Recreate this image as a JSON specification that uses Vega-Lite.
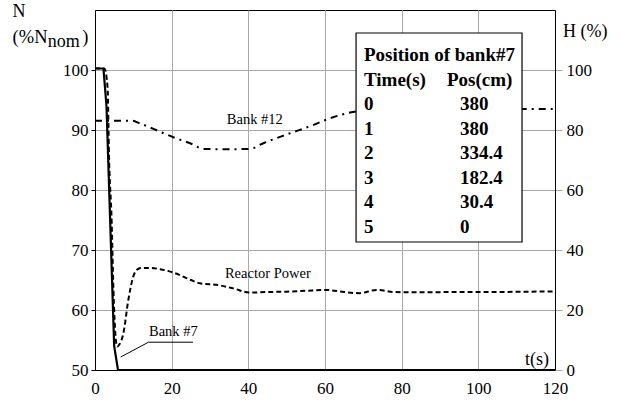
{
  "$schema": "https://vega.github.io/schema/vega-lite/v6.json",
  "width": 460,
  "height": 360,
  "autosize": "none",
  "padding": {"left": 95, "top": 10, "right": 65, "bottom": 31},
  "background": "white",
  "config": {
    "view": {"stroke": "#000", "strokeWidth": 1},
    "axis": {
      "labelFontSize": 17,
      "labelColor": "#000",
      "domainColor": "#000",
      "domainWidth": 1,
      "gridColor": "#a8a8a8",
      "gridOpacity": 1,
      "gridWidth": 1
    }
  },
  "datasets": {
    "power": [
      {"t": 0, "n": 100.3}, {"t": 2.5, "n": 100.2}, {"t": 3.3, "n": 96.9},
      {"t": 3.65, "n": 85.8}, {"t": 4.35, "n": 74.7}, {"t": 4.8, "n": 63.6},
      {"t": 5.4, "n": 55.3}, {"t": 5.8, "n": 53.9}, {"t": 6.3, "n": 54.2},
      {"t": 7.4, "n": 56.1}, {"t": 8.7, "n": 61.7}, {"t": 10, "n": 65.6},
      {"t": 10.9, "n": 66.7}, {"t": 12, "n": 67}, {"t": 14.3, "n": 67},
      {"t": 17, "n": 66.8}, {"t": 19.6, "n": 66.4}, {"t": 22.2, "n": 65.8},
      {"t": 25, "n": 65}, {"t": 27.4, "n": 64.45}, {"t": 31.7, "n": 64.2},
      {"t": 36.1, "n": 63.6}, {"t": 40.4, "n": 62.9}, {"t": 45, "n": 63},
      {"t": 50, "n": 63.05}, {"t": 55, "n": 63.2}, {"t": 60, "n": 63.35},
      {"t": 65, "n": 63}, {"t": 69, "n": 62.8}, {"t": 73.5, "n": 63.35},
      {"t": 78, "n": 63}, {"t": 85, "n": 62.95}, {"t": 95, "n": 63},
      {"t": 105, "n": 63}, {"t": 112, "n": 63.05}, {"t": 120, "n": 63.1}
    ],
    "bank7": [
      {"t": 0, "h": 100.5}, {"t": 2.2, "h": 100.5}, {"t": 3, "h": 88},
      {"t": 4, "h": 48}, {"t": 5, "h": 8}, {"t": 6, "h": 0}, {"t": 120, "h": 0}
    ],
    "bank12": [
      {"t": 0, "h": 83.1}, {"t": 9.6, "h": 83.1}, {"t": 11.7, "h": 82.2},
      {"t": 17, "h": 79.4}, {"t": 20.4, "h": 77.6}, {"t": 24.8, "h": 75.6},
      {"t": 28.3, "h": 73.7}, {"t": 34, "h": 73.6}, {"t": 40.4, "h": 73.7},
      {"t": 43.9, "h": 75.6}, {"t": 50, "h": 78.5}, {"t": 57, "h": 81.7},
      {"t": 61.3, "h": 83.9}, {"t": 66.5, "h": 85.8}, {"t": 72, "h": 86.8},
      {"t": 80, "h": 87}, {"t": 120, "h": 87}
    ],
    "bank7_position": [
      {"time": 0, "pos": "380"}, {"time": 1, "pos": "380"},
      {"time": 2, "pos": "334.4"}, {"time": 3, "pos": "182.4"},
      {"time": 4, "pos": "30.4"}, {"time": 5, "pos": "0"}
    ]
  },
  "layer": [
    {
      "data": {"name": "power"},
      "mark": {"type": "line", "color": "#000", "strokeWidth": 2, "strokeDash": [5, 3], "interpolate": "monotone"},
      "encoding": {
        "x": {
          "field": "t", "type": "quantitative",
          "scale": {"domain": [0, 120], "nice": false, "zero": false},
          "axis": {
            "title": null, "values": [0, 10, 20, 30, 40, 50, 60, 70, 80, 90, 100, 110, 120],
            "grid": true, "ticks": false, "labelPadding": 10,
            "labelFlush": false, "labelOverlap": false,
            "labelFont": "Liberation Serif", "labelFontSize": 17, "labelColor": "#000"
          }
        },
        "y": {
          "field": "n", "type": "quantitative",
          "scale": {"domain": [50, 110], "nice": false, "zero": false},
          "axis": {
            "orient": "left", "title": null, "values": [50, 60, 70, 80, 90, 100],
            "grid": true, "tickSize": 4, "tickColor": "#000", "labelPadding": 3,
            "labelFont": "Liberation Serif", "labelFontSize": 17, "labelColor": "#000"
          }
        }
      }
    },
    {
      "layer": [
        {
          "data": {"name": "bank7"},
          "mark": {"type": "line", "color": "#000", "strokeWidth": 2.2},
          "encoding": {
            "x": {"field": "t", "type": "quantitative"},
            "y": {
              "field": "h", "type": "quantitative",
              "scale": {"domain": [0, 120], "nice": false, "zero": false},
              "axis": {
                "orient": "right", "title": null, "values": [0, 20, 40, 60, 80, 100],
                "grid": false, "tickSize": 7, "tickColor": "#a8a8a8", "labelPadding": 4,
                "labelFont": "Liberation Serif", "labelFontSize": 17, "labelColor": "#000"
              }
            }
          }
        },
        {
          "data": {"name": "bank12"},
          "mark": {"type": "line", "color": "#000", "strokeWidth": 2, "strokeDash": [7, 5, 2, 5], "interpolate": "monotone"},
          "encoding": {
            "x": {"field": "t", "type": "quantitative"},
            "y": {"field": "h", "type": "quantitative"}
          }
        },
        {
          "data": {"values": [{}]},
          "mark": {"type": "rect", "fill": "#fff", "stroke": "#000", "strokeWidth": 1.2},
          "encoding": {
            "x": {"datum": 68.1}, "x2": {"datum": 111.4},
            "y": {"datum": 112.33}, "y2": {"datum": 42.67}
          }
        },
        {
          "data": {"values": [{}]},
          "mark": {"type": "rule", "color": "#000", "strokeWidth": 1},
          "encoding": {
            "x": {"datum": 13.96}, "x2": {"datum": 25.57},
            "y": {"datum": 9.27}, "y2": {"datum": 9.27}
          }
        },
        {
          "data": {"values": [{}]},
          "mark": {"type": "rule", "color": "#000", "strokeWidth": 1},
          "encoding": {
            "x": {"datum": 13.96}, "x2": {"datum": 6.7},
            "y": {"datum": 9.27}, "y2": {"datum": 4.33}
          }
        },
        {
          "data": {"values": [{"label": "Bank #12"}]},
          "mark": {"type": "text", "font": "Liberation Serif", "color": "#000", "fontSize": 14.5, "align": "left", "baseline": "alphabetic"},
          "encoding": {"x": {"datum": 34.4}, "y": {"datum": 82}, "text": {"field": "label"}}
        },
        {
          "data": {"values": [{"label": "Reactor Power"}]},
          "mark": {"type": "text", "font": "Liberation Serif", "color": "#000", "fontSize": 14.5, "align": "left", "baseline": "alphabetic"},
          "encoding": {"x": {"datum": 33.9}, "y": {"datum": 30.8}, "text": {"field": "label"}}
        },
        {
          "data": {"values": [{"label": "Bank #7"}]},
          "mark": {"type": "text", "font": "Liberation Serif", "color": "#000", "fontSize": 14.5, "align": "left", "baseline": "alphabetic"},
          "encoding": {"x": {"datum": 14.09}, "y": {"datum": 11.33}, "text": {"field": "label"}}
        },
        {
          "data": {"values": [{"label": "t(s)"}]},
          "mark": {"type": "text", "font": "Liberation Serif", "color": "#000", "fontSize": 18, "align": "left", "baseline": "alphabetic"},
          "encoding": {"x": {"datum": 112.2}, "y": {"datum": 1.67}, "text": {"field": "label"}}
        },
        {
          "data": {"values": [{"label": "H (%)"}]},
          "mark": {"type": "text", "font": "Liberation Serif", "color": "#000", "fontSize": 18, "align": "left", "baseline": "alphabetic"},
          "encoding": {"x": {"datum": 122.1}, "y": {"datum": 111.1}, "text": {"field": "label"}}
        },
        {
          "data": {"values": [{"label": "N"}]},
          "mark": {"type": "text", "font": "Liberation Serif", "color": "#000", "fontSize": 18, "align": "left", "baseline": "alphabetic"},
          "encoding": {"x": {"datum": -21.5}, "y": {"datum": 117.8}, "text": {"field": "label"}}
        },
        {
          "data": {"values": [{"label": "(%N"}]},
          "mark": {"type": "text", "font": "Liberation Serif", "color": "#000", "fontSize": 18.5, "align": "left", "baseline": "alphabetic"},
          "encoding": {"x": {"datum": -21.5}, "y": {"datum": 109.1}, "text": {"field": "label"}}
        },
        {
          "data": {"values": [{"label": "nom"}]},
          "mark": {"type": "text", "font": "Liberation Serif", "color": "#000", "fontSize": 18, "align": "left", "baseline": "alphabetic"},
          "encoding": {"x": {"datum": -12.3}, "y": {"datum": 107.6}, "text": {"field": "label"}}
        },
        {
          "data": {"values": [{"label": ")"}]},
          "mark": {"type": "text", "font": "Liberation Serif", "color": "#000", "fontSize": 18.5, "align": "left", "baseline": "alphabetic"},
          "encoding": {"x": {"datum": -3.3}, "y": {"datum": 109.1}, "text": {"field": "label"}}
        }
      ]
    },
    {
      "layer": [
        {
          "data": {"values": [{"label": "Position of bank#7"}]},
          "mark": {"type": "text", "font": "Liberation Serif", "color": "#000", "fontSize": 19, "fontWeight": "bold", "align": "left", "baseline": "alphabetic"},
          "encoding": {
            "x": {"datum": 70.17},
            "y": {"datum": -2, "type": "quantitative", "scale": {"domain": [-4.082, 10.612], "reverse": true, "nice": false, "zero": false}, "axis": null},
            "text": {"field": "label"}
          }
        },
        {
          "data": {"values": [{"label": "Time(s)"}]},
          "mark": {"type": "text", "font": "Liberation Serif", "color": "#000", "fontSize": 19, "fontWeight": "bold", "align": "left", "baseline": "alphabetic"},
          "encoding": {"x": {"datum": 70.17}, "y": {"datum": -1}, "text": {"field": "label"}}
        },
        {
          "data": {"values": [{"label": "Pos(cm)"}]},
          "mark": {"type": "text", "font": "Liberation Serif", "color": "#000", "fontSize": 19, "fontWeight": "bold", "align": "left", "baseline": "alphabetic"},
          "encoding": {"x": {"datum": 91.83}, "y": {"datum": -1}, "text": {"field": "label"}}
        },
        {
          "data": {"name": "bank7_position"},
          "mark": {"type": "text", "font": "Liberation Serif", "color": "#000", "fontSize": 19, "fontWeight": "bold", "align": "left", "baseline": "alphabetic"},
          "encoding": {"x": {"datum": 70.17}, "y": {"field": "time", "type": "quantitative"}, "text": {"field": "time", "type": "nominal"}}
        },
        {
          "data": {"name": "bank7_position"},
          "mark": {"type": "text", "font": "Liberation Serif", "color": "#000", "fontSize": 19, "fontWeight": "bold", "align": "left", "baseline": "alphabetic"},
          "encoding": {"x": {"datum": 95.2}, "y": {"field": "time", "type": "quantitative"}, "text": {"field": "pos", "type": "nominal"}}
        }
      ]
    }
  ],
  "resolve": {"scale": {"y": "independent"}, "axis": {"y": "independent"}}
}
